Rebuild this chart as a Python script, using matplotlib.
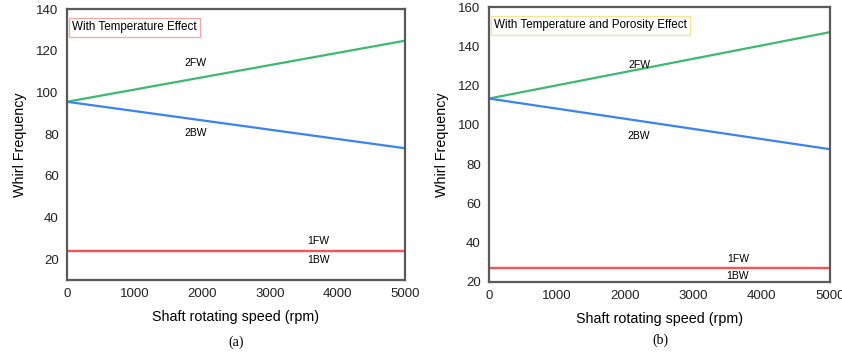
import matplotlib
matplotlib.use("Agg")
import matplotlib.pyplot as plt

plt.rcParams['font.family'] = ['Liberation Sans', 'DejaVu Sans']

speed = [0, 5000]

# (a) temperature effect
a_2fw = [95.5, 124.8]
a_2bw = [95.5, 73.2]
a_1fw = [24.1, 24.1]
a_1bw = [24.1, 24.1]

# (b) temperature and porosity effect
b_2fw = [113.4, 147.2]
b_2bw = [113.4, 87.6]
b_1fw = [27.2, 27.2]
b_1bw = [27.2, 27.2]

xticks = [0, 1000, 2000, 3000, 4000, 5000]
a_yticks = [20, 40, 60, 80, 100, 120, 140]
b_yticks = [20, 40, 60, 80, 100, 120, 140, 160]

GREEN = '#3dba6f'
BLUE = '#3a84ee'
RED = '#f0555a'
FRAME = '#5a5a5a'

W, H = 842, 355
fig = plt.figure(figsize=(W / 100, H / 100), dpi=100)


def px_axes(x0, y0, x1, y1):
    return fig.add_axes([x0 / W, (H - y1) / H, (x1 - x0) / W, (y1 - y0) / H])


def style(ax, ylim, yticks):
    ax.set_xlim(0, 5000)
    ax.set_ylim(*ylim)
    ax.set_xticks(xticks)
    ax.set_yticks(yticks)
    ax.tick_params(length=0, labelsize=9.5, pad=6, colors='#222222')
    for s in ax.spines.values():
        s.set_color(FRAME)
        s.set_linewidth(1.6)
    ax.set_xlabel('Shaft rotating speed (rpm)', fontsize=10.3, labelpad=7)
    ax.set_ylabel('Whirl Frequency', fontsize=10.3, labelpad=7)


# panel (a)
ax1 = px_axes(67, 9, 405, 280)
ax1.plot(speed, a_2fw, color=GREEN, lw=1.6)
ax1.plot(speed, a_2bw, color=BLUE, lw=1.6)
ax1.plot(speed, a_1fw, color=RED, lw=1.6)
ax1.plot(speed, a_1bw, color=RED, lw=1.6)
style(ax1, (10, 140), a_yticks)
ax1.text(1900, 114, '2FW', fontsize=7.5, ha='center', va='center')
ax1.text(1900, 80.5, '2BW', fontsize=7.5, ha='center', va='center')
ax1.text(3720, 28.5, '1FW', fontsize=7.5, ha='center', va='center')
ax1.text(3720, 19.6, '1BW', fontsize=7.5, ha='center', va='center')
ax1.text(0.015, 0.955, 'With Temperature Effect', transform=ax1.transAxes,
         fontsize=8.4, ha='left', va='top',
         bbox=dict(boxstyle='square,pad=0.3', fc='white', ec='#f4a7a7', lw=0.9))
fig.text(236 / W, 1 - 342 / H, '(a)', fontsize=10, ha='center', va='center',
         family=['Liberation Serif', 'DejaVu Serif'])

# panel (b)
ax2 = px_axes(489, 7, 830, 282)
ax2.plot(speed, b_2fw, color=GREEN, lw=1.6)
ax2.plot(speed, b_2bw, color=BLUE, lw=1.6)
ax2.plot(speed, b_1fw, color=RED, lw=1.6)
ax2.plot(speed, b_1bw, color=RED, lw=1.6)
style(ax2, (20, 160), b_yticks)
ax2.text(2200, 130.5, '2FW', fontsize=7.5, ha='center', va='center')
ax2.text(2200, 94.5, '2BW', fontsize=7.5, ha='center', va='center')
ax2.text(3650, 31.5, '1FW', fontsize=7.5, ha='center', va='center')
ax2.text(3650, 23, '1BW', fontsize=7.5, ha='center', va='center')
ax2.text(0.015, 0.955, 'With Temperature and Porosity Effect', transform=ax2.transAxes,
         fontsize=8.4, ha='left', va='top',
         bbox=dict(boxstyle='square,pad=0.3', fc='white', ec='#f2e88a', lw=0.9))
fig.text(660 / W, 1 - 340 / H, '(b)', fontsize=10, ha='center', va='center',
         family=['Liberation Serif', 'DejaVu Serif'])

fig.savefig('out.png', dpi=100)
